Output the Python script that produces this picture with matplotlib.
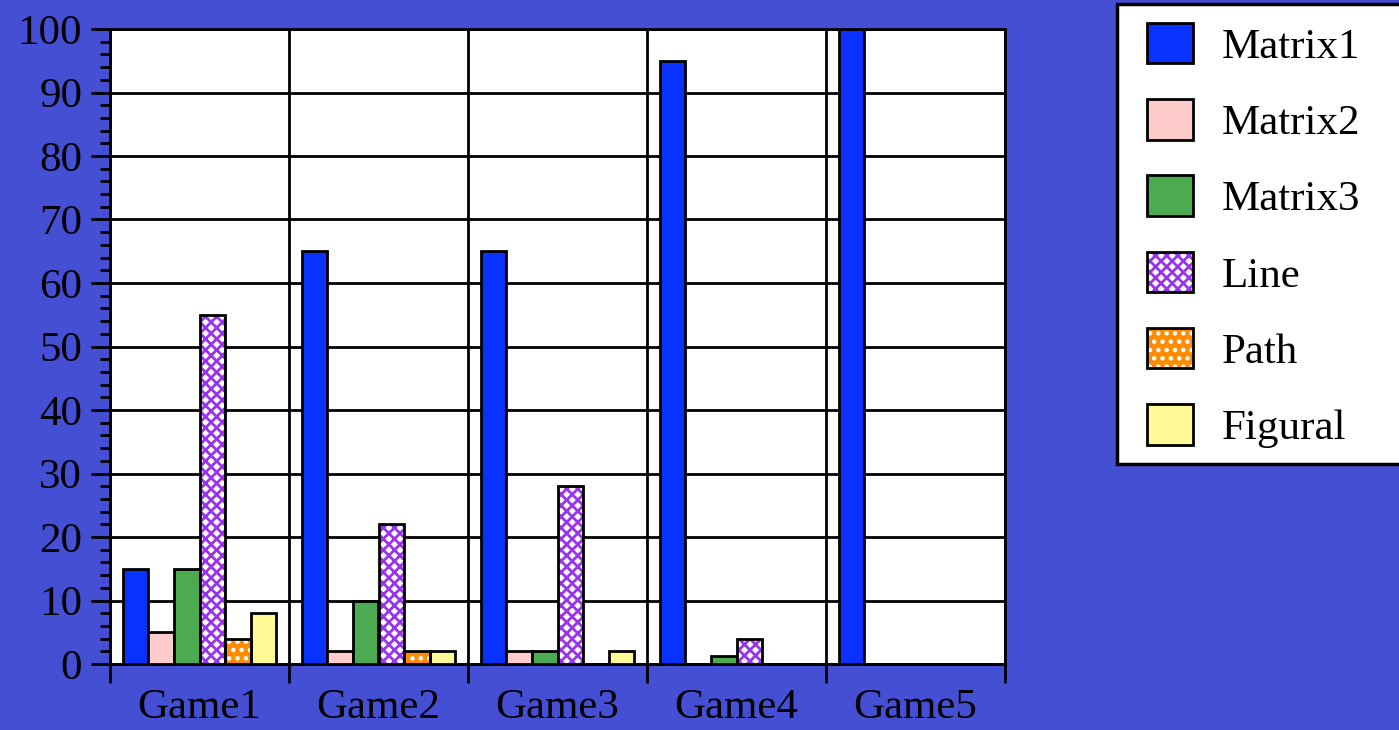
import numpy as np
import matplotlib.pyplot as plt
from matplotlib.patches import Rectangle
from matplotlib.legend_handler import HandlerTuple

# data
games = ['Game1', 'Game2', 'Game3', 'Game4', 'Game5']
series = ['Matrix1', 'Matrix2', 'Matrix3', 'Line', 'Path', 'Figural']
matrix1 = [15, 65, 65, 95, 100]
matrix2 = [5, 2, 2, 0, 0]
matrix3 = [15, 10, 2, 1.2, 0]
line = [55, 22, 28, 4, 0]
path = [4, 2, 0, 0, 0]
figural = [8, 2, 2, 0, 0]
values = [matrix1, matrix2, matrix3, line, path, figural]

faces = ['#0a32ff', '#ffcccc', '#4caa50', 'white', '#ff8c00', '#fffa96']
hatch_cols = [None, None, None, '#9933ee', 'white', None]
hatches = [None, None, None, 'xxx', '..', None]

bg = '#444fd4'
plt.rcParams['font.family'] = ['Liberation Serif', 'DejaVu Serif']
plt.rcParams['hatch.linewidth'] = 2.0

fig = plt.figure(figsize=(13.99, 7.30), dpi=100, facecolor=bg)
ax = fig.add_axes([110 / 1399, 1 - 664 / 730, 895 / 1399, 635 / 730])
ax.set_facecolor('white')

x = np.arange(len(games))
w = 0.1425
handles = []
for j, name in enumerate(series):
    pos = x + (j - 2.5) * w
    if hatches[j]:
        b1 = ax.bar(pos, values[j], w, color=faces[j], edgecolor=hatch_cols[j],
                    hatch=hatches[j], linewidth=0, zorder=3)
        b2 = ax.bar(pos, values[j], w, fill=False, edgecolor='black',
                    linewidth=2.0, zorder=4)
        handles.append((b1.patches[0], b2.patches[0]))
    else:
        b = ax.bar(pos, values[j], w, color=faces[j], edgecolor='black',
                   linewidth=2.0, zorder=3)
        handles.append(b.patches[0])

ax.set_xlim(-0.5, 4.5)
ax.set_ylim(0, 100)

# group boundaries as major ticks, names on minor ticks
ax.set_xticks(np.arange(-0.5, 5, 1))
ax.set_xticklabels([])
ax.set_xticks(x, minor=True)
ax.set_xticklabels(games, minor=True)
ax.tick_params(axis='x', which='major', direction='out', length=14, width=2)
ax.tick_params(axis='x', which='minor', length=0, pad=18, labelsize=31)

ax.set_yticks(np.arange(0, 101, 10))
ax.set_yticks(np.arange(0, 101, 2), minor=True)
ax.tick_params(axis='y', which='major', direction='out', length=14, width=2,
               labelsize=31, pad=6)
ax.tick_params(axis='y', which='minor', direction='out', length=7, width=2)

ax.grid(True, which='major', color='black', linewidth=2, zorder=1)
ax.set_axisbelow(True)
for s in ax.spines.values():
    s.set_color('black')
    s.set_linewidth(2)

# legend box
fig.add_artist(Rectangle((1117 / 1399, 1 - 464 / 730), 0.3, 460 / 730,
                         transform=fig.transFigure, facecolor='white',
                         edgecolor='black', linewidth=2.5, zorder=5))
leg = fig.legend(handles, series, loc='upper left',
                 bbox_to_anchor=(1147 / 1399, 1 - 23 / 730),
                 handler_map={tuple: HandlerTuple(ndivide=1)},
                 fontsize=31, frameon=False, handlelength=1.07,
                 handleheight=1.07, labelspacing=0.75, borderpad=0,
                 handletextpad=0.67, borderaxespad=0)
leg.set_zorder(6)

fig.savefig('out.png', dpi=100, facecolor=bg)
